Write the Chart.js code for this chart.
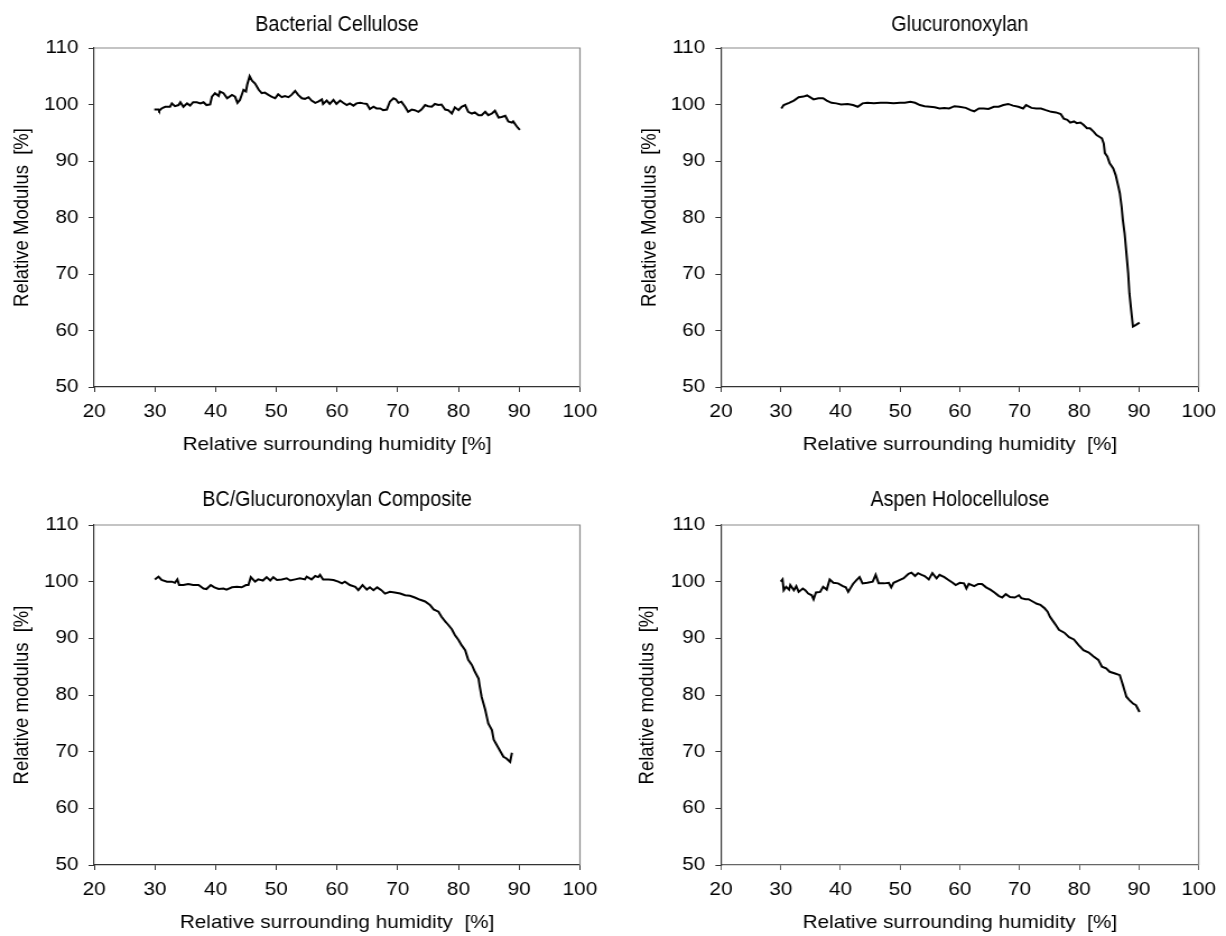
<!DOCTYPE html>
<html>
<head>
<meta charset="utf-8">
<script src="https://cdn.jsdelivr.net/npm/chart.js@4/dist/chart.umd.min.js"></script>
<style>
  body{margin:0;background:#fff;}
  #wrap{position:relative;width:1226px;height:936px;overflow:hidden;background:#fff;}
  canvas{position:absolute;}
</style>
</head>
<body>
<div id="wrap">
  <canvas id="c1" width="547" height="468" style="left:0;top:0;width:613px;height:468px"></canvas>
  <canvas id="c2" width="547" height="468" style="left:613px;top:0;width:613px;height:468px"></canvas>
  <canvas id="c3" width="547" height="468" style="left:0;top:468px;width:613px;height:468px"></canvas>
  <canvas id="c4" width="547" height="468" style="left:613px;top:468px;width:613px;height:468px"></canvas>
</div>
<script>
// ===== AXES =====
const xTicks = [20,30,40,50,60,70,80,90,100];
const yTicks = [50,60,70,80,90,100,110];

// ===== DATA =====
// Bacterial Cellulose
const bcX = [29.9,30.6,30.7,31.1,31.7,32.5,32.8,33.3,33.9,34.2,34.7,35.3,35.8,36.3,36.9,37.5,38.0,38.5,39.1,39.4,39.9,40.5,40.7,41.3,41.9,42.7,43.2,43.6,44.0,44.6,45.0,45.2,45.6,46.0,46.5,47.1,47.6,48.1,48.7,49.2,49.8,50.3,50.9,51.4,52.0,52.5,53.1,53.6,54.2,54.7,55.3,55.8,56.4,56.9,57.5,57.7,58.3,58.8,59.4,59.9,60.5,61.0,61.6,62.1,62.7,63.2,63.8,64.3,64.9,65.4,66.0,66.5,67.1,67.6,68.2,68.7,69.3,69.7,70.1,70.6,71.2,71.7,72.3,72.8,73.4,73.9,74.5,75.0,75.6,76.1,76.7,77.2,77.8,78.3,78.9,79.4,80.0,80.5,81.1,81.6,82.2,82.7,83.3,83.8,84.4,84.9,85.5,86.0,86.6,87.1,87.7,88.2,88.8,89.0,89.6,90.1];
const bcY = [99.1,99.1,98.9,99.3,99.6,99.6,100.2,99.7,99.9,100.4,99.6,100.2,99.8,100.4,100.4,100.2,100.4,99.9,100.0,101.4,102.0,101.5,102.3,102.0,101.1,101.7,101.4,100.3,100.8,102.6,102.3,103.5,105.0,104.2,103.7,102.6,102.0,102.1,101.7,101.4,101.1,101.8,101.3,101.5,101.3,101.7,102.4,101.7,101.1,101.0,101.3,100.7,100.3,100.5,100.9,100.1,100.7,100.1,100.8,100.1,100.7,100.3,99.9,100.2,99.8,100.2,100.3,100.2,100.1,99.2,99.6,99.3,99.3,99.0,99.1,100.5,101.1,100.9,100.3,100.5,99.6,98.7,99.1,99.0,98.7,99.1,99.9,99.7,99.6,100.1,99.9,100.0,99.1,99.0,98.4,99.5,99.0,99.6,99.9,98.7,98.4,98.6,98.1,98.1,98.7,98.1,98.4,98.9,97.7,97.8,98.0,97.0,96.8,97.0,96.1,95.5];

// Glucuronoxylan
const gxX = [30.1,30.5,31.4,32.2,33.0,33.8,34.4,34.9,35.5,36.3,37.1,37.7,38.5,39.3,40.1,41.2,42.1,42.9,43.7,44.5,45.6,46.7,47.8,48.9,50.0,50.8,51.7,52.5,53.3,54.1,55.0,55.8,56.6,57.4,58.2,59.1,59.9,61.0,61.8,62.4,63.2,64.0,64.8,65.7,66.5,67.3,68.1,68.9,69.8,70.6,71.1,72.0,72.8,73.6,74.4,75.3,76.1,76.9,77.4,78.0,78.5,79.1,79.6,80.2,80.7,81.3,81.8,82.4,82.9,83.5,83.8,84.1,84.3,84.7,85.1,85.7,86.1,86.5,86.8,87.1,87.3,87.6,87.9,88.2,88.4,88.7,89.0,89.5,90.1];
const gxY = [99.3,99.9,100.3,100.7,101.3,101.4,101.6,101.3,100.9,101.1,101.1,100.7,100.3,100.2,100.0,100.1,99.9,99.6,100.2,100.3,100.2,100.3,100.3,100.2,100.3,100.3,100.5,100.3,99.9,99.7,99.6,99.5,99.3,99.4,99.3,99.7,99.6,99.4,99.0,98.8,99.3,99.3,99.2,99.6,99.6,99.9,100.1,99.8,99.6,99.3,99.9,99.4,99.3,99.3,99.0,98.7,98.6,98.3,97.5,97.3,96.8,97.0,96.7,96.8,96.4,95.8,95.8,95.2,94.6,94.2,94.0,93.1,91.4,90.8,89.6,88.7,87.5,85.7,84.3,81.9,79.6,77.2,73.7,70.1,66.6,63.6,60.7,61.0,61.4];

// BC/Glucuronoxylan Composite
const compX = [30.0,30.6,31.1,32.0,32.8,33.3,33.7,34.0,34.7,35.5,36.3,37.2,38.0,38.5,39.2,39.8,40.5,41.3,41.8,42.7,43.5,44.3,45.0,45.4,45.8,46.5,47.0,47.8,48.4,49.0,49.5,50.1,50.9,51.7,52.3,53.1,53.9,54.7,55.0,55.8,56.4,56.9,57.2,57.7,58.6,59.4,60.2,60.8,61.3,62.1,63.0,63.5,64.2,64.9,65.4,66.0,66.6,67.3,67.9,68.7,69.5,70.4,71.2,72.0,72.8,73.7,74.5,75.3,75.9,76.7,77.2,77.8,78.3,78.9,79.4,80.0,80.5,81.1,81.6,82.2,82.7,83.3,83.5,83.8,84.4,84.9,85.5,85.8,86.6,87.4,87.9,88.5,88.8];
const compY = [100.4,100.9,100.3,100.0,100.0,99.8,100.4,99.4,99.4,99.6,99.4,99.4,98.8,98.7,99.4,99.0,98.7,98.8,98.6,99.0,99.1,99.0,99.4,99.4,100.8,100.0,100.4,100.2,100.8,100.2,100.8,100.3,100.4,100.6,100.2,100.4,100.6,100.4,100.9,100.4,101.0,100.8,101.2,100.4,100.4,100.3,100.0,99.7,100.0,99.4,99.1,98.5,99.4,98.6,99.0,98.5,99.0,98.5,97.9,98.2,98.1,97.9,97.6,97.5,97.2,96.8,96.5,95.9,95.1,94.7,93.8,93.0,92.4,91.6,90.6,89.7,88.8,87.9,86.2,85.3,84.1,82.9,81.5,79.7,77.4,75.0,73.8,72.1,70.6,69.1,68.8,68.2,69.8];

// Aspen Holocellulose
const aspX = [30.0,30.3,30.5,30.9,31.4,31.6,32.2,32.6,33.0,33.7,34.1,34.6,35.2,35.5,35.9,36.6,37.1,37.7,38.2,38.8,39.6,40.4,40.9,41.3,42.1,42.6,43.2,43.7,44.5,45.4,45.9,46.4,47.3,48.1,48.5,48.9,49.7,50.6,51.4,51.9,52.5,53.0,53.6,54.1,54.8,55.4,56.1,56.6,57.4,58.1,58.8,59.3,60.0,60.7,61.1,61.5,62.4,63.1,63.7,64.4,65.1,65.8,66.5,67.1,67.7,68.4,69.2,69.9,70.3,71.0,71.5,72.2,72.9,73.5,74.2,74.7,75.1,75.7,76.1,76.6,77.5,78.3,79.1,79.9,80.7,81.6,82.4,83.2,83.8,84.5,85.1,86.0,86.8,87.3,87.9,88.4,89.0,89.5,90.1];
const aspY = [100.0,100.4,98.5,99.1,98.6,99.4,98.5,99.2,98.2,98.8,98.5,97.9,97.6,96.9,98.1,98.2,99.1,98.6,100.4,99.8,99.7,99.2,99.0,98.2,99.6,100.2,100.8,99.7,99.8,100.0,101.2,99.7,99.7,99.8,99.0,99.8,100.2,100.6,101.4,101.6,101.0,101.5,101.2,101.0,100.4,101.5,100.6,101.2,100.8,100.3,99.8,99.4,99.8,99.7,98.8,99.6,99.2,99.6,99.6,99.0,98.6,98.1,97.5,97.2,97.8,97.3,97.2,97.6,97.1,96.9,96.9,96.5,96.1,95.9,95.3,94.7,93.8,92.9,92.3,91.5,91.0,90.2,89.8,88.8,87.9,87.5,86.8,86.2,85.0,84.7,84.1,83.8,83.5,81.8,79.7,79.1,78.5,78.2,77.0];

// ===== STYLE =====
Chart.defaults.font.family = "'Liberation Sans', Arial, sans-serif";
Chart.defaults.font.size = 18.5;
Chart.defaults.color = '#000';

// top and right frame lines in grey
const framePlugin = {
  id: 'frame',
  beforeDatasetsDraw(chart){
    const {ctx, chartArea:{left,top,right,bottom}} = chart;
    ctx.save();
    ctx.strokeStyle = '#8a8a8a';
    ctx.lineWidth = 1.2;
    ctx.beginPath();
    ctx.moveTo(left, top); ctx.lineTo(right, top); ctx.lineTo(right, bottom);
    ctx.stroke();
    ctx.restore();
  }
};

// narrow panel title, centred over the plot area (no narrow font installed)
const titlePlugin = {
  id: 'panelTitle',
  afterDraw(chart, args, opts){
    const {ctx, chartArea} = chart;
    ctx.save();
    ctx.font = "normal 22px 'Liberation Sans', Arial, sans-serif";
    ctx.fillStyle = '#000';
    ctx.textAlign = 'center';
    ctx.textBaseline = 'middle';
    ctx.translate((chartArea.left + chartArea.right) / 2, opts.y);
    ctx.scale(opts.squeeze, 1);
    ctx.fillText(opts.text, 0, 0);
    ctx.restore();
  }
};

function makePanel(id, title, yTitle, xTitle, xs, ys, lay){
  const pts = xs.map((x,i)=>({x:x, y:ys[i]}));
  return new Chart(document.getElementById(id), {
    type: 'line',
    data: {datasets: [{data: pts, borderColor: '#000', borderWidth: 2, pointRadius: 0, tension: 0, fill: false}]},
    options: {
      responsive: false, animation: false, devicePixelRatio: 1,
      layout: {padding: {left: 0, right: lay.padRight, top: lay.plotTop, bottom: 0}},
      plugins: {
        legend: {display: false}, tooltip: {enabled: false}, title: {display: false},
        panelTitle: {text: title, y: lay.titleY, squeeze: 0.8}
      },
      scales: {
        x: {
          type: 'linear', min: xTicks[0], max: xTicks[xTicks.length-1],
          afterFit: a => { a.height = lay.xHeight; },
          afterBuildTicks: a => { a.ticks = xTicks.map(v=>({value:v})); },
          ticks: {autoSkip: false, maxRotation: 0, padding: 9},
          grid: {drawOnChartArea: false, drawTicks: true, tickLength: 5, color: lay.xColor},
          border: {color: lay.xColor, width: 1.2},
          title: {display: true, text: xTitle, padding: {top: 0, bottom: lay.xTitlePad}}
        },
        y: {
          min: yTicks[0], max: yTicks[yTicks.length-1],
          afterFit: a => { a.width = lay.yWidth; },
          afterBuildTicks: a => { a.ticks = yTicks.map(v=>({value:v})); },
          ticks: {padding: 9},
          grid: {drawOnChartArea: false, drawTicks: true, tickLength: 5, color: '#333'},
          border: {color: '#333', width: 1.2},
          title: {display: true, text: yTitle, padding: {top: lay.yTitlePad, bottom: 0}}
        }
      }
    },
    plugins: [framePlugin, titlePlugin]
  });
}

const topLeft  = {yWidth: 84, padRight: 29.5, plotTop: 48, titleY: 25, xHeight: 81, xTitlePad: 12, yTitlePad: 9, xColor: '#333'};
const topRight = {yWidth: 96.4, padRight: 17, plotTop: 48, titleY: 25, xHeight: 81, xTitlePad: 12, yTitlePad: 22, xColor: '#333'};
const botLeft  = {yWidth: 84, padRight: 29.5, plotTop: 57, titleY: 32, xHeight: 71, xTitlePad: 2, yTitlePad: 9, xColor: '#333'};
const botRight = {yWidth: 96.4, padRight: 17, plotTop: 57, titleY: 32, xHeight: 71, xTitlePad: 2, yTitlePad: 20, xColor: '#666'};

makePanel('c1', 'Bacterial Cellulose', 'Relative Modulus  [%]', 'Relative surrounding humidity [%]', bcX, bcY, topLeft);
makePanel('c2', 'Glucuronoxylan', 'Relative Modulus  [%]', 'Relative surrounding humidity  [%]', gxX, gxY, topRight);
makePanel('c3', 'BC/Glucuronoxylan Composite', 'Relative modulus  [%]', 'Relative surrounding humidity  [%]', compX, compY, botLeft);
makePanel('c4', 'Aspen Holocellulose', 'Relative modulus  [%]', 'Relative surrounding humidity  [%]', aspX, aspY, botRight);
</script>
</body>
</html>
